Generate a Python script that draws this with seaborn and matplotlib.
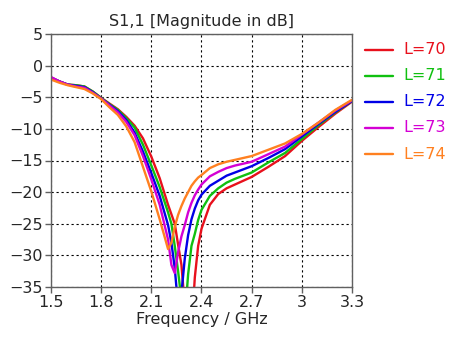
import numpy as np
import pandas as pd
import matplotlib
matplotlib.use("Agg")
import matplotlib.pyplot as plt
import seaborn as sns

freq = [1.5, 1.55, 1.6, 1.65, 1.7, 1.75, 1.8, 1.85, 1.9, 1.95, 2.0, 2.05, 2.1, 2.15,
        2.2, 2.22, 2.24, 2.26, 2.28, 2.30, 2.32, 2.34, 2.36, 2.38, 2.4, 2.45, 2.5,
        2.55, 2.6, 2.7, 2.8, 2.9, 3.0, 3.1, 3.2, 3.3]

s70 = [-1.9, -2.5, -3.0, -3.1, -3.3, -4.1, -5.1, -6.0, -6.9, -8.1, -9.5, -11.5, -14.4, -17.8,
       -22.0, -23.5, -25.0, -28.3, -31.5, -38, -48, -42, -33.5, -28.5, -25.8, -22.0, -20.3,
       -19.4, -18.8, -17.6, -16.0, -14.3, -11.9, -9.7, -7.6, -5.7]
s71 = [-1.9, -2.5, -3.0, -3.1, -3.3, -4.1, -5.1, -6.1, -7.0, -8.3, -9.8, -12.5, -15.8, -19.2,
       -23.2, -25.0, -28.5, -32.5, -37, -40, -33, -28.5, -26.6, -24.4, -22.8, -20.6, -19.4,
       -18.5, -17.9, -16.9, -15.3, -13.8, -11.6, -9.4, -7.4, -5.6]
s72 = [-1.9, -2.5, -3.0, -3.2, -3.4, -4.2, -5.2, -6.2, -7.2, -8.6, -10.6, -13.6, -17.0, -20.6,
       -25.2, -28.0, -32.0, -38, -36, -30.5, -26.8, -24.3, -22.6, -21.3, -20.4, -19.0, -18.2,
       -17.4, -16.9, -15.9, -14.6, -13.2, -11.2, -9.2, -7.3, -5.6]
s73 = [-1.8, -2.5, -3.0, -3.3, -3.5, -4.3, -5.2, -6.3, -7.4, -8.9, -11.0, -14.3, -18.0, -22.0,
       -27.5, -31.5, -32.8, -29.5, -27.0, -25.2, -23.2, -21.7, -20.5, -19.6, -18.8, -17.5, -16.8,
       -16.2, -15.8, -15.2, -14.0, -12.8, -10.9, -9.0, -7.1, -5.5]
s74 = [-2.2, -2.7, -3.1, -3.4, -3.7, -4.4, -5.3, -6.6, -7.8, -9.6, -12.1, -16.0, -19.9, -24.3,
       -29.0, -28.0, -25.5, -23.6, -22.2, -21.0, -20.0, -19.0, -18.3, -17.7, -17.3, -16.2, -15.6,
       -15.2, -14.9, -14.3, -13.3, -12.3, -10.8, -9.0, -7.0, -5.4]

labels = ["L=70", "L=71", "L=72", "L=73", "L=74"]
colors = ["#e8101c", "#10c010", "#0000e6", "#d400d4", "#ff8020"]
xticks = [1.5, 1.8, 2.1, 2.4, 2.7, 3.0, 3.3]
xticklabels = ["1.5", "1.8", "2.1", "2.4", "2.7", "3", "3.3"]
yticks = [5, 0, -5, -10, -15, -20, -25, -30, -35]

df = pd.concat([pd.DataFrame({"Frequency": freq, "S11": s, "L": lab})
                for s, lab in zip([s70, s71, s72, s73, s74], labels)])

sns.set_style("white")
plt.rcParams['font.family'] = ['DejaVu Sans']

fig = plt.figure(figsize=(4.75, 3.41), dpi=100)
ax = fig.add_axes([51/475, 1 - 287/341, (352 - 51)/475, (287 - 34)/341])
sns.lineplot(data=df, x="Frequency", y="S11", hue="L", palette=colors,
             linewidth=1.7, ax=ax, legend=False, sort=False, estimator=None)

ax.set_xlim(1.5, 3.3)
ax.set_ylim(-35, 5)
ax.set_xticks(xticks)
ax.set_xticklabels(xticklabels)
ax.set_yticks(yticks)
ax.grid(True, color="black", linestyle=(0, (2, 2.5)), linewidth=0.8)
for sp in ax.spines.values():
    sp.set_color("#606060")
    sp.set_linewidth(1.0)
ax.tick_params(axis="both", direction="out", length=4, width=1, color="#606060",
               labelsize=11.5, pad=2, bottom=True, left=True)
ax.set_xlabel("Frequency / GHz", fontsize=11.5, labelpad=1)
ax.set_ylabel("")
ax.set_title("S1,1 [Magnitude in dB]", fontsize=11.5, pad=6)

ys = [50, 76, 102, 128, 154]
for lab, col, yp in zip(labels, colors, ys):
    fy = 1 - yp/341
    fig.add_artist(plt.Line2D([365/475, 393/475], [fy, fy], color=col, linewidth=1.7))
    fig.text(403/475, fy, lab, color=col, fontsize=11.5, va="center", ha="left")

fig.savefig("out.png", dpi=100)
